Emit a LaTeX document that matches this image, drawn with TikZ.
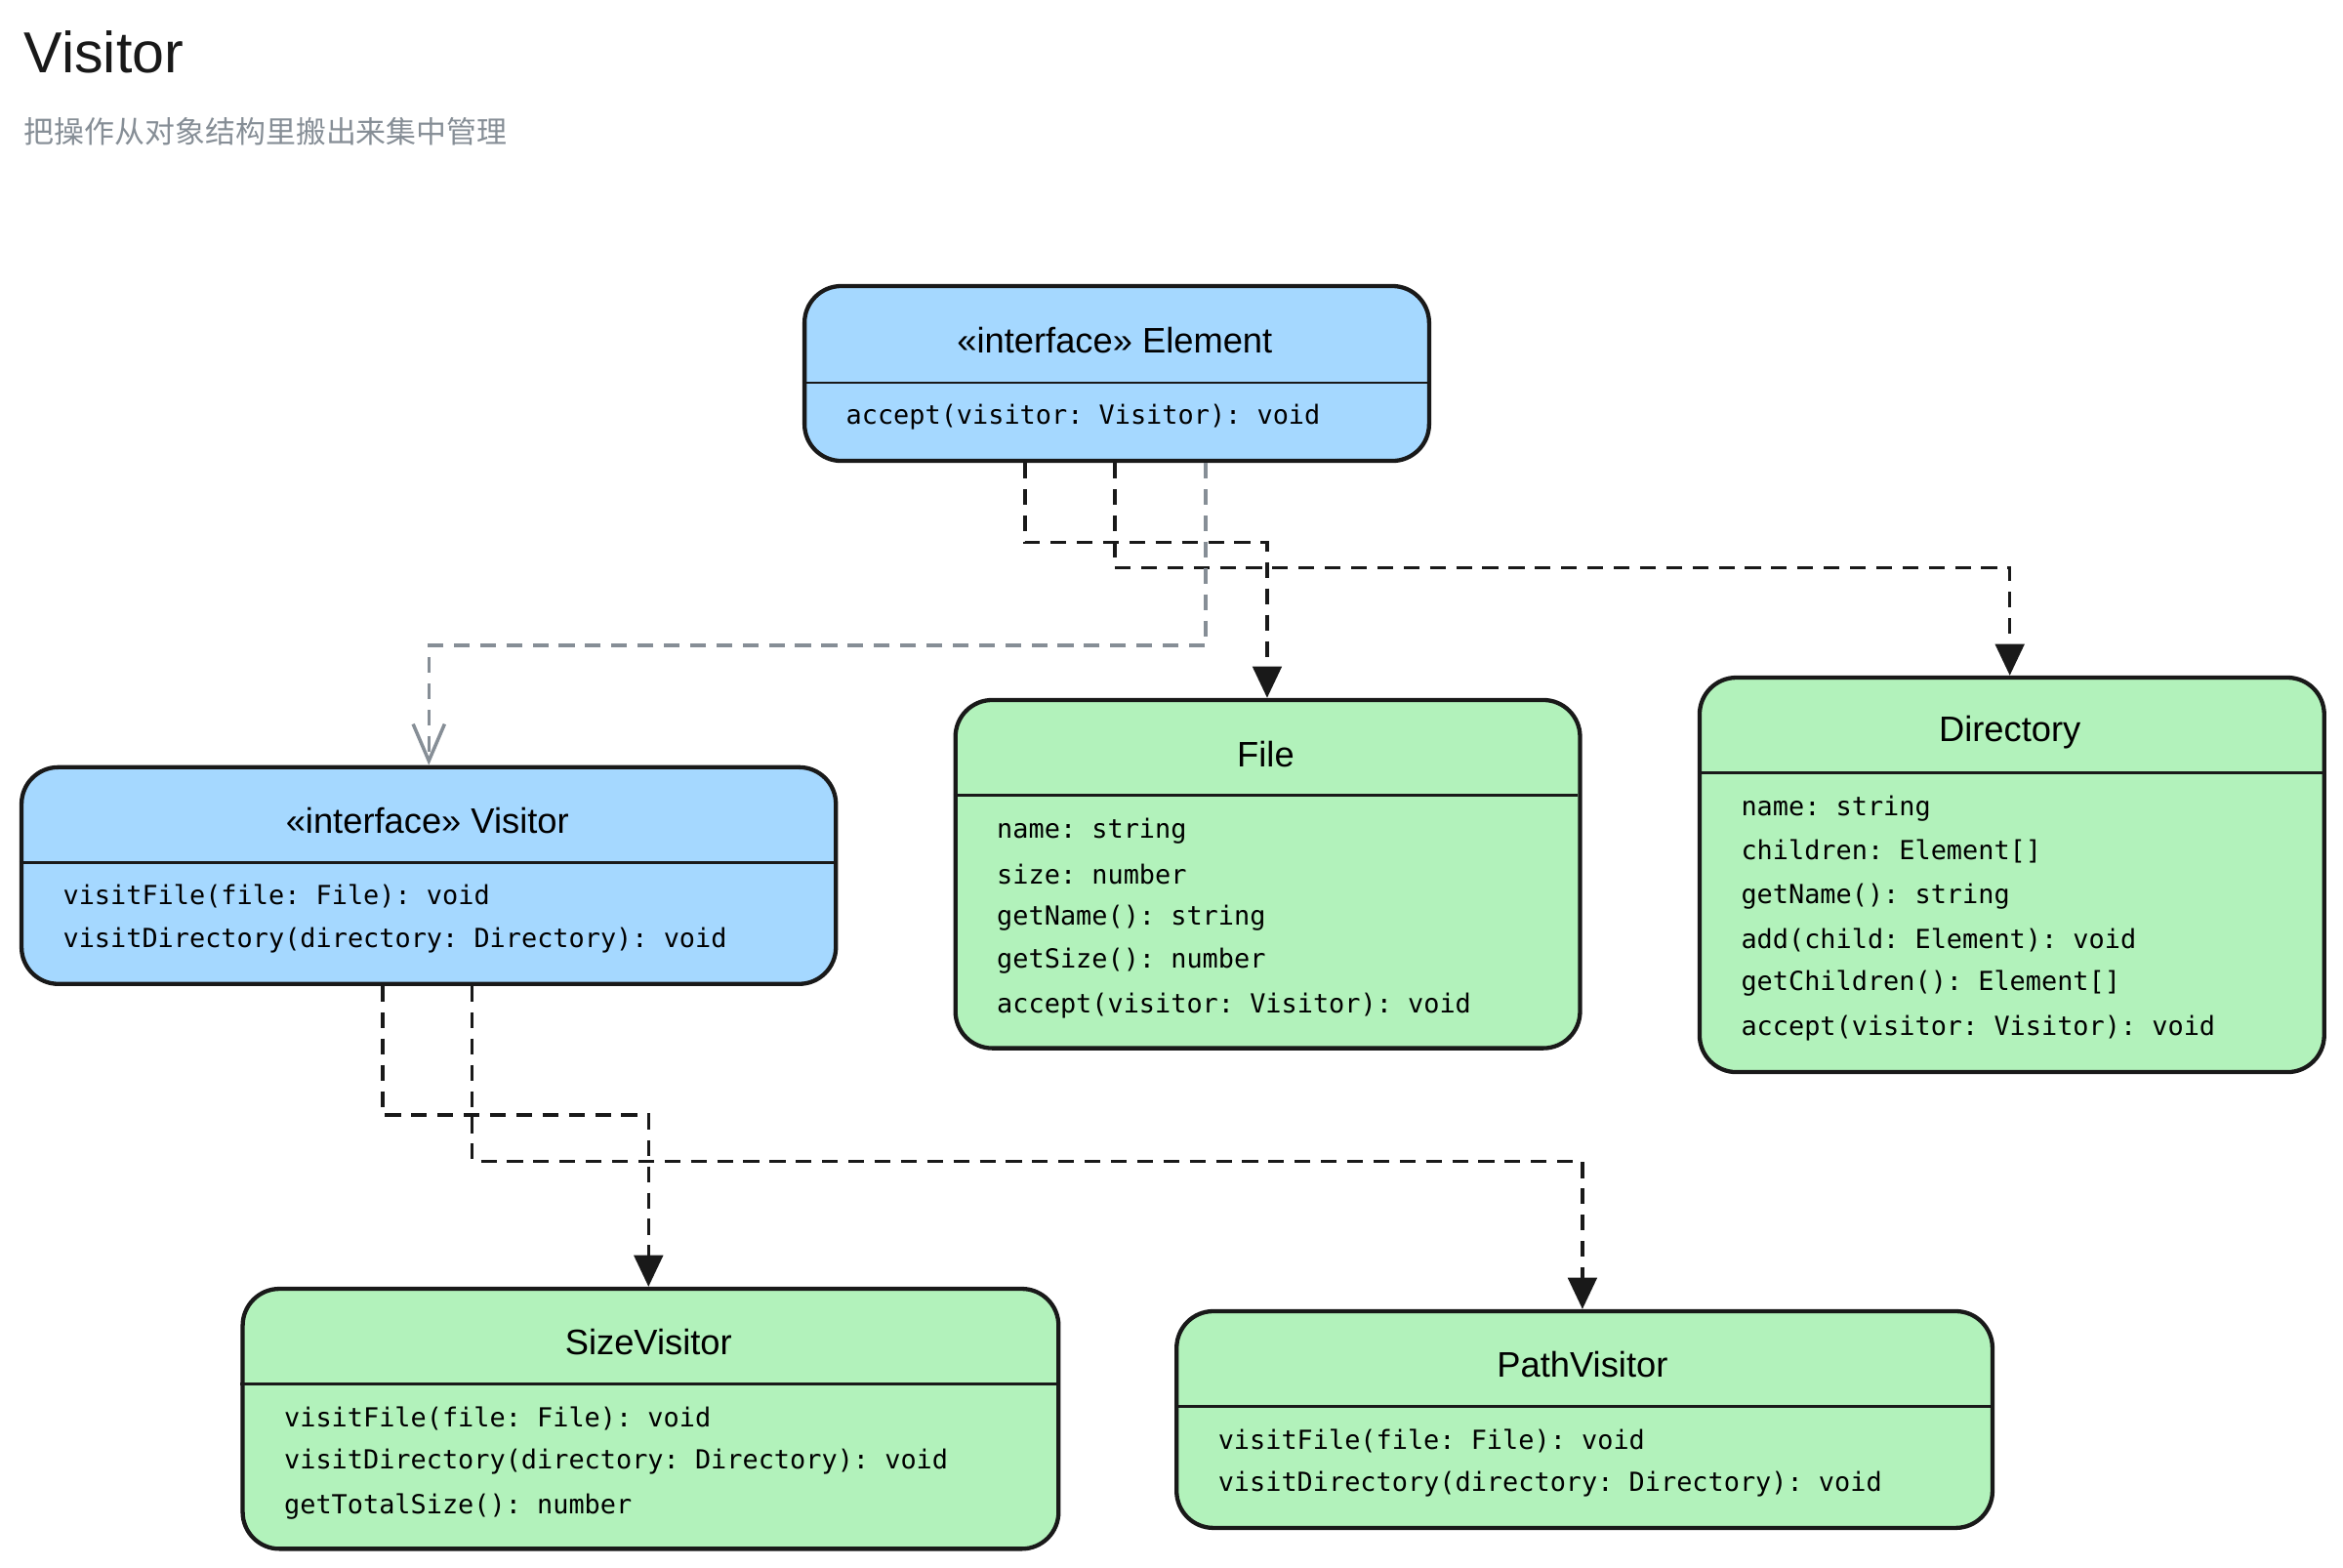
\documentclass[tikz,border=0pt]{standalone}
\usepackage{fontspec}
\setmainfont{Liberation Sans}
\setmonofont{DejaVu Sans Mono}
\newfontfamily\cjk{Noto Sans CJK SC}
\usetikzlibrary{arrows.meta,calc}

\definecolor{ifblue}{HTML}{A5D8FF}
\definecolor{clgreen}{HTML}{B2F2BB}
\definecolor{linkgray}{HTML}{868E96}

\begin{document}
\begin{tikzpicture}[
    x=0.02cm, y=-0.02cm,
    classbox/.style={draw=black!90, line width=1.6pt, rounded corners=14pt, anchor=north west, inner sep=0pt},
    classname/.style={font=\fontsize{13.5}{16}\selectfont},
    member/.style={font=\ttfamily\fontsize{10}{12}\selectfont, anchor=west},
    divider/.style={draw=black!90, line width=1pt},
    realize/.style={draw=black!90, line width=1.3pt, dashed, dash pattern=on 6pt off 4pt, -{Triangle[length=12pt, width=11pt]}},
    depend/.style={draw=linkgray, line width=1.3pt, dash pattern=on 6pt off 4pt, -{Straight Barb[length=14pt, width=12pt]}},
]
\useasboundingbox (0,0) rectangle (1568,1049);

% Title
\node[anchor=west, font=\fontsize{22}{26}\selectfont, text=black!90] (title) at (10,35) {Visitor};
\node[anchor=west, font=\cjk\fontsize{11.5}{14}\selectfont, text=linkgray] (subtitle) at (10,88) {把操作从对象结构里搬出来集中管理};

% Element
\node[classbox, fill=ifblue, minimum width=418*0.02cm, minimum height=117*0.02cm] (elem) at (537,190) {};
\draw[divider] (537,256) -- (955,256);
\node[classname] (elemname) at (746,228) {«interface» Element};
\node[member] (elem1) at (560,279) {accept(visitor: Visitor): void};

% Visitor
\node[classbox, fill=ifblue, minimum width=545*0.02cm, minimum height=145*0.02cm] (visitor) at (13,512) {};
\draw[divider] (13,577) -- (558,577);
\node[classname] (visitorname) at (286,549) {«interface» Visitor};
\node[member] (visitor1) at (36,600) {visitFile(file: File): void};
\node[member] (visitor2) at (36,629) {visitDirectory(directory: Directory): void};

% File
\node[classbox, fill=clgreen, minimum width=418*0.02cm, minimum height=233*0.02cm] (file) at (638,467) {};
\draw[divider] (638,532) -- (1056,532);
\node[classname] (filename) at (847,505) {File};
\node[member] (file1) at (661,556) {name: string};
\node[member] (file2) at (661,585) {size: number};
\node[member] (file3) at (661,614) {getName(): string};
\node[member] (file4) at (661,643) {getSize(): number};
\node[member] (file5) at (661,673) {accept(visitor: Visitor): void};

% Directory
\node[classbox, fill=clgreen, minimum width=418*0.02cm, minimum height=264*0.02cm] (dir) at (1136,452) {};
\draw[divider] (1136,517) -- (1554,517);
\node[classname] (dirname) at (1345,490) {Directory};
\node[member] (dir1) at (1159,541) {name: string};
\node[member] (dir2) at (1159,570) {children: Element[]};
\node[member] (dir3) at (1159,600) {getName(): string};
\node[member] (dir4) at (1159,629) {add(child: Element): void};
\node[member] (dir5) at (1159,658) {getChildren(): Element[]};
\node[member] (dir6) at (1159,688) {accept(visitor: Visitor): void};

% SizeVisitor
\node[classbox, fill=clgreen, minimum width=546*0.02cm, minimum height=174*0.02cm] (size) at (161,861) {};
\draw[divider] (161,926) -- (707,926);
\node[classname] (sizename) at (434,898) {SizeVisitor};
\node[member] (size1) at (184,949) {visitFile(file: File): void};
\node[member] (size2) at (184,978) {visitDirectory(directory: Directory): void};
\node[member] (size3) at (184,1008) {getTotalSize(): number};

% PathVisitor
\node[classbox, fill=clgreen, minimum width=546*0.02cm, minimum height=145*0.02cm] (path) at (786,876) {};
\draw[divider] (786,941) -- (1332,941);
\node[classname] (pathname) at (1059,913) {PathVisitor};
\node[member] (path1) at (809,964) {visitFile(file: File): void};
\node[member] (path2) at (809,993) {visitDirectory(directory: Directory): void};

% Connectors
\draw[realize] ($(elem.south west)+(149,0)$) |- (848,363) -- (file.north -| 848,0);
\draw[realize] ($(elem.south west)+(209,0)$) |- (1345,380) -- (dir.north -| 1345,0);
\draw[depend] ($(elem.south west)+(270,0)$) |- (287,432) -- (visitor.north -| 287,0);
\draw[realize] ($(visitor.south west)+(243,0)$) |- (434,746) -- (size.north -| 434,0);
\draw[realize] ($(visitor.south west)+(303,0)$) |- (1059,777) -- (path.north -| 1059,0);

\end{tikzpicture}
\end{document}
